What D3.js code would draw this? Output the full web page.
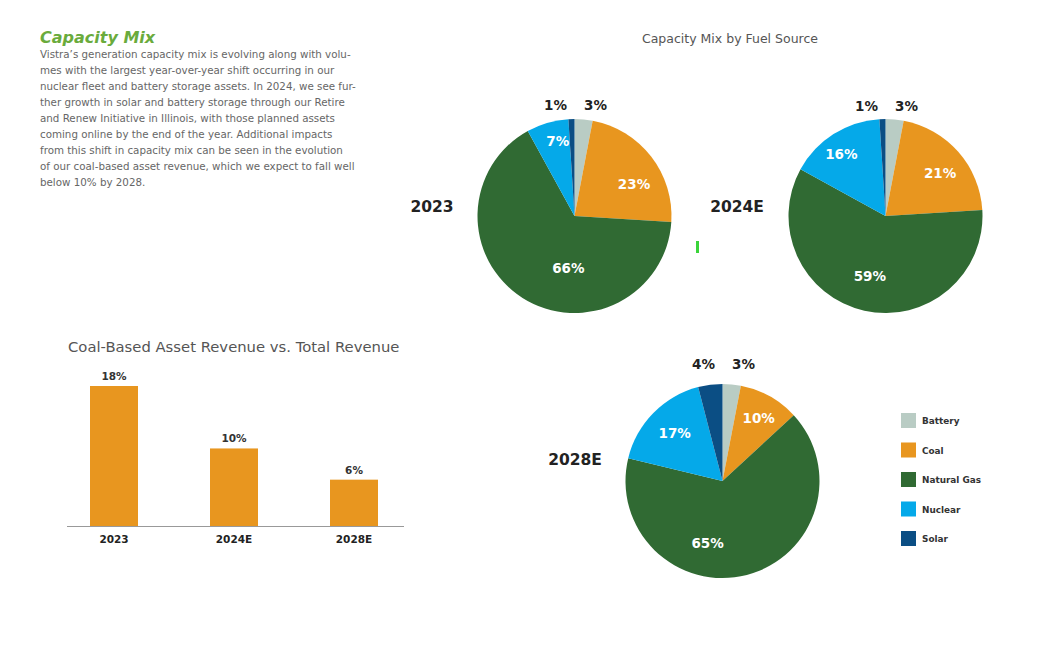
<!DOCTYPE html>
<html><head><meta charset="utf-8">
<script src="https://cdn.jsdelivr.net/npm/d3@7"></script>
<style>
html,body{margin:0;padding:0;background:#fff;}
svg{display:block;font-family:"DejaVu Sans",sans-serif;}
</style></head>
<body>
<svg id="c" width="1043" height="651"></svg>
<script>
// ---------- DATA ----------
const fuels = ["Battery","Coal","Natural Gas","Nuclear","Solar"];
const pieYears = ["2023","2024E","2028E"];
const mix2023 = [3,23,66,7,1];
const mix2024 = [3,21,59,16,1];
const mix2028 = [3,10,65,17,4];
const barCats = ["2023","2024E","2028E"];
const barVals = [18,10,6];
const bodyLines = [
 "Vistra\u2019s generation capacity mix is evolving along with volu-",
 "mes with the largest year-over-year shift occurring in our",
 "nuclear fleet and battery storage assets. In 2024, we see fur-",
 "ther growth in solar and battery storage through our Retire",
 "and Renew Initiative in Illinois, with those planned assets",
 "coming online by the end of the year. Additional impacts",
 "from this shift in capacity mix can be seen in the evolution",
 "of our coal-based asset revenue, which we expect to fall well",
 "below 10% by 2028."
];

// ---------- LAYOUT / STYLE ----------
const colors = ["#b9ccc4","#e8961f","#306a33","#05a9e9","#0b4e84"];
const svg = d3.select("#c");
svg.append("rect").attr("width",1043).attr("height",651).attr("fill","#fff");

// text block
svg.append("text").attr("x",40).attr("y",37).attr("dominant-baseline","central")
  .attr("font-size",16).attr("font-weight","bold").attr("font-style","italic")
  .attr("fill","#6aab3c").text("Capacity Mix");
svg.append("g").selectAll("text").data(bodyLines).join("text")
  .attr("x",40).attr("y",(d,i)=>53.5+i*16.1).attr("dominant-baseline","central")
  .attr("font-size",10.3).attr("fill","#666").text(d=>d);

// pies
svg.append("text").attr("x",730).attr("y",38).attr("text-anchor","middle")
  .attr("dominant-baseline","central").attr("font-size",12.5).attr("fill","#555")
  .text("Capacity Mix by Fuel Source");

const pies = [
  {vals:mix2023, cx:574.5, cy:216, yl:[432,207], outY:-111, nudge:[[12,5],[26,1],[0,-17]]},
  {vals:mix2024, cx:885.5, cy:216, yl:[737,207], outY:-110, nudge:[[9.5,-3],[-2.5,1],[-12,-11]]},
  {vals:mix2028, cx:722.5, cy:481, yl:[575,460], outY:-117, nudge:[[7,-10],[-30,4],[-5,-6]]}
];
const R = 97;
const pieGen = d3.pie().sort(null).value(d=>d);
const arc = d3.arc().innerRadius(0).outerRadius(R);
const labArc = d3.arc().innerRadius(R*0.62).outerRadius(R*0.62);

pies.forEach((p,pi)=>{
  const g = svg.append("g").attr("transform",`translate(${p.cx},${p.cy})`);
  const arcs = pieGen(p.vals);
  g.selectAll("path").data(arcs).join("path")
    .attr("d",arc).attr("fill",(d,i)=>colors[i]);
  // inner labels: coal, gas, nuclear
  [1,2,3].forEach((k,j)=>{
    const c = labArc.centroid(arcs[k]);
    g.append("text").attr("x",c[0]+p.nudge[j][0]).attr("y",c[1]+p.nudge[j][1])
      .attr("text-anchor","middle").attr("dominant-baseline","central")
      .attr("font-size",13.5).attr("font-weight","bold").attr("fill","#fff")
      .text(p.vals[k]+"%");
  });
  // outer labels: solar (left), battery (right)
  g.append("text").attr("x",-19).attr("y",p.outY).attr("text-anchor","middle")
    .attr("dominant-baseline","central").attr("font-size",13.5).attr("font-weight","bold")
    .attr("fill","#222").text(p.vals[4]+"%");
  g.append("text").attr("x",21).attr("y",p.outY).attr("text-anchor","middle")
    .attr("dominant-baseline","central").attr("font-size",13.5).attr("font-weight","bold")
    .attr("fill","#222").text(p.vals[0]+"%");
  svg.append("text").attr("x",p.yl[0]).attr("y",p.yl[1]).attr("text-anchor","middle")
    .attr("dominant-baseline","central").attr("font-size",15.5).attr("font-weight","bold")
    .attr("fill","#222").text(pieYears[pi]);
});

// stray green marker
svg.append("rect").attr("x",696).attr("y",241).attr("width",3).attr("height",12).attr("fill","#3ad43a");

// legend
const lg = svg.append("g");
fuels.forEach((f,i)=>{
  const y = 413 + i*29.5;
  lg.append("rect").attr("x",901).attr("y",y).attr("width",15).attr("height",15).attr("fill",colors[i]);
  lg.append("text").attr("x",922).attr("y",y+8).attr("dominant-baseline","central")
    .attr("font-size",8.9).attr("font-weight","bold").attr("fill","#333").text(f);
});

// bar chart
svg.append("text").attr("x",68).attr("y",346).attr("dominant-baseline","central")
  .attr("font-size",14.8).attr("fill","#555").text("Coal-Based Asset Revenue vs. Total Revenue");
const x = d3.scaleBand().domain(barCats).range([54,414]).paddingInner(0.6).paddingOuter(0.3);
const y = d3.scaleLinear().domain([0,18]).range([526.5,386]);
svg.append("g").selectAll("rect").data(barVals).join("rect")
  .attr("x",(d,i)=>x(barCats[i])).attr("width",x.bandwidth())
  .attr("y",d=>y(d)).attr("height",d=>y(0)-y(d)).attr("fill","#e8961f");
svg.append("line").attr("x1",67).attr("x2",404).attr("y1",526.5).attr("y2",526.5)
  .attr("stroke","#999").attr("stroke-width",1);
svg.append("g").selectAll("text").data(barVals).join("text")
  .attr("x",(d,i)=>x(barCats[i])+x.bandwidth()/2).attr("y",d=>y(d)-10)
  .attr("text-anchor","middle").attr("dominant-baseline","central")
  .attr("font-size",10.5).attr("font-weight","bold").attr("fill","#333").text(d=>d+"%");
svg.append("g").selectAll("text.cat").data(barCats).join("text")
  .attr("x",d=>x(d)+x.bandwidth()/2).attr("y",539)
  .attr("text-anchor","middle").attr("dominant-baseline","central")
  .attr("font-size",10.5).attr("font-weight","bold").attr("fill","#222").text(d=>d);
</script>
</body></html>
